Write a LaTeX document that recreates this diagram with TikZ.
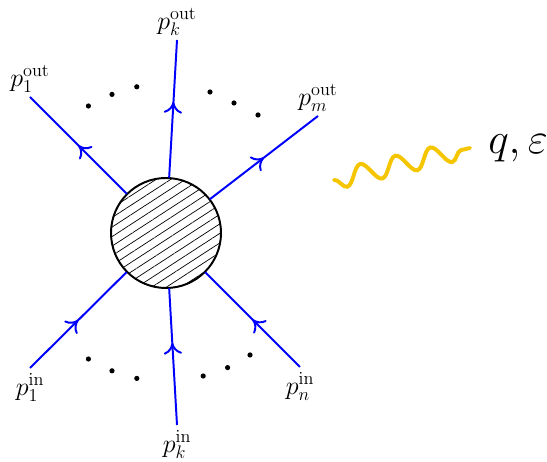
\documentclass[tikz,border=0pt]{standalone}
\usepackage{fix-cm}
\usetikzlibrary{arrows.meta,decorations.markings,decorations.pathmorphing,patterns.meta,positioning}
\definecolor{photonyellow}{RGB}{245,197,0}
\tikzset{
  fermion/.style={draw=blue, line width=1.4pt, postaction={decorate},
    decoration={markings, mark=at position #1 with {\arrow{Computer Modern Rightarrow[length=8pt,width=13pt,line width=1.4pt]}}}},
  fermion/.default=0.5,
  momlabel/.style={inner sep=1pt, font=\fontsize{18.5}{22}\selectfont},
  photon/.style={draw=photonyellow, line width=2.8pt, line cap=round, decorate,
    decoration={snake, segment length=0.9cm, amplitude=-0.24cm}},
}
\begin{document}
\begin{tikzpicture}
    \useasboundingbox (0,0) rectangle (13.675,11.55);

    % Blob
    \node[circle, draw, line width=1.4pt, minimum size=2.75cm,
          pattern={Lines[angle=33,distance=0.2cm,line width=0.5pt]}] (blob) at (4.15,5.725) {};

    % Bouts libres
    \coordinate (o1) at (0.75,9.125);
    \coordinate (ok) at (4.425,10.55);
    \coordinate (om) at (7.95,8.65);
    \coordinate (i1) at (0.75,2.35);
    \coordinate (ik) at (4.425,0.925);
    \coordinate (in) at (7.5,2.375);

    % Sortants
    \draw[fermion] (blob) -- (o1);
    \draw[fermion=0.55] (blob) -- (ok);
    \draw[fermion] (blob) -- (om);

    % Entrants
    \draw[fermion] (i1) -- (blob);
    \draw[fermion=0.6] (ik) -- (blob);
    \draw[fermion] (in) -- (blob);

    % Etiquettes
    \node[momlabel, above=2pt of o1] (lo1) {$p_1^{\mathrm{out}}$};
    \node[momlabel, above=2pt of ok] (lok) {$p_k^{\mathrm{out}}$};
    \node[momlabel, above=2pt of om] (lom) {$p_m^{\mathrm{out}}$};
    \node[momlabel, below=3pt of i1] (li1) {$p_1^{\mathrm{in}}$};
    \node[momlabel, below=3pt of ik] (lik) {$p_k^{\mathrm{in}}$};
    \node[momlabel, below=3pt of in] (lin) {$p_n^{\mathrm{in}}$};

    % Points
    \foreach \x/\y in {2.21/8.9, 2.8/9.19, 3.42/9.38, 5.25/9.25, 5.85/8.975, 6.45/8.675,
                       2.21/2.575, 2.8/2.28, 3.42/2.09, 5.08/2.15, 5.69/2.36, 6.25/2.675}
        \fill (\x,\y) circle (0.065);

    % Photon
    \coordinate (g1) at (8.35,7.05);
    \coordinate (g2) at (11.75,7.85);
    \draw[photon] (g1) -- (g2);
    \node[right=0.45cm of g2, font=\fontsize{31}{36}\selectfont, inner sep=0pt] (qlabel) {$q,\varepsilon$};
\end{tikzpicture}
\end{document}
